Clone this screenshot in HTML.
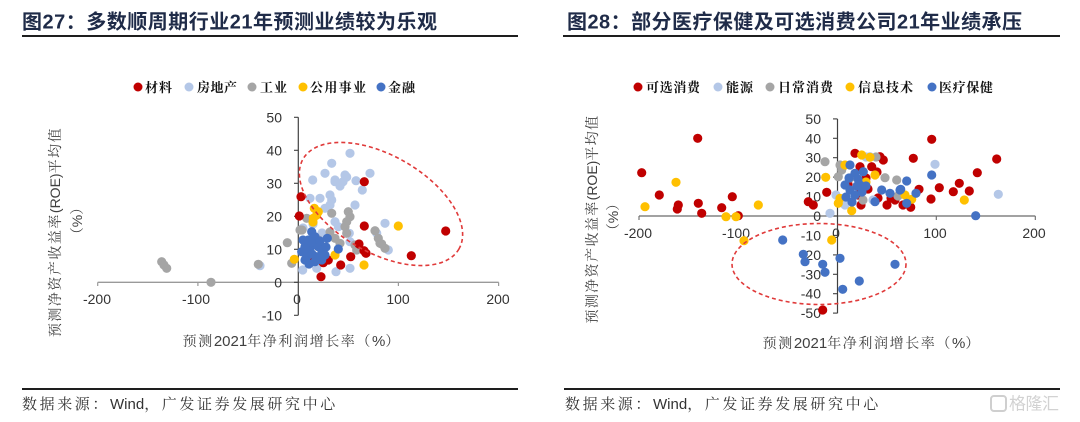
<!DOCTYPE html>
<html><head><meta charset="utf-8"><style>
html,body{margin:0;padding:0;background:#fff;}
svg{display:block;}
.t{font-family:"Liberation Sans","Noto Sans CJK SC",sans-serif;font-weight:bold;font-size:20px;fill:#1f2b48;}
.tk{font-family:"Liberation Sans","DejaVu Sans",sans-serif;font-size:14px;fill:#333;}
.ax{font-family:"Liberation Sans","Noto Serif CJK SC",serif;font-size:14px;fill:#404040;}
.lg{font-family:"Liberation Sans","Noto Serif CJK SC",serif;font-size:13px;font-weight:bold;fill:#111;}
.ft{font-family:"Liberation Sans","Noto Serif CJK SC",serif;font-size:15px;fill:#333;}
</style></head><body>
<svg width="1080" height="422" viewBox="0 0 1080 422" xmlns="http://www.w3.org/2000/svg">
<rect width="1080" height="422" fill="#fff"/>

<!-- Titles -->
<text class="t" x="22" y="28.5" textLength="415" lengthAdjust="spacing">图27：多数顺周期行业21年预测业绩较为乐观</text>
<text class="t" x="567" y="28.5" textLength="455" lengthAdjust="spacing">图28：部分医疗保健及可选消费公司21年业绩承压</text>
<rect x="22" y="35" width="496" height="2" fill="#1e1e1e"/>
<rect x="563" y="35" width="497" height="2" fill="#1e1e1e"/>

<!-- Legends -->
<g>
<circle cx="138" cy="87" r="4.5" fill="#c00000"/>
<circle cx="189" cy="87" r="4.5" fill="#b4c7e7"/>
<circle cx="252" cy="87" r="4.5" fill="#a5a5a5"/>
<circle cx="303" cy="87" r="4.5" fill="#ffc000"/>
<circle cx="381" cy="87" r="4.5" fill="#4472c4"/>
<text class="lg" x="145" y="87.5" dominant-baseline="central" textLength="27" lengthAdjust="spacing">材料</text>
<text class="lg" x="197" y="87.5" dominant-baseline="central" textLength="40" lengthAdjust="spacing">房地产</text>
<text class="lg" x="260" y="87.5" dominant-baseline="central" textLength="27" lengthAdjust="spacing">工业</text>
<text class="lg" x="310" y="87.5" dominant-baseline="central" textLength="56" lengthAdjust="spacing">公用事业</text>
<text class="lg" x="388" y="87.5" dominant-baseline="central" textLength="27" lengthAdjust="spacing">金融</text>

<circle cx="638" cy="87" r="4.5" fill="#c00000"/>
<circle cx="718" cy="87" r="4.5" fill="#b4c7e7"/>
<circle cx="770" cy="87" r="4.5" fill="#a5a5a5"/>
<circle cx="850" cy="87" r="4.5" fill="#ffc000"/>
<circle cx="932" cy="87" r="4.5" fill="#4472c4"/>
<text class="lg" x="646" y="87.5" dominant-baseline="central" textLength="54" lengthAdjust="spacing">可选消费</text>
<text class="lg" x="726" y="87.5" dominant-baseline="central" textLength="27" lengthAdjust="spacing">能源</text>
<text class="lg" x="778" y="87.5" dominant-baseline="central" textLength="55" lengthAdjust="spacing">日常消费</text>
<text class="lg" x="858" y="87.5" dominant-baseline="central" textLength="55" lengthAdjust="spacing">信息技术</text>
<text class="lg" x="939" y="87.5" dominant-baseline="central" textLength="54" lengthAdjust="spacing">医疗保健</text>
</g>

<!-- ============ LEFT CHART ============ -->
<line x1="97.7" y1="282.3" x2="498.7" y2="282.3" stroke="#9a9a9a" stroke-width="1.3"/>
<g stroke="#9a9a9a" stroke-width="1.2">
<line x1="97.7" y1="282.3" x2="97.7" y2="286"/>
<line x1="197.9" y1="282.3" x2="197.9" y2="286"/>
<line x1="398.4" y1="282.3" x2="398.4" y2="286"/>
<line x1="498.6" y1="282.3" x2="498.6" y2="286"/>
</g>
<line x1="298.3" y1="117.3" x2="298.3" y2="315.3" stroke="#404040" stroke-width="1.2"/>
<g stroke="#404040" stroke-width="1.1">
<line x1="294" y1="117.3" x2="298.3" y2="117.3"/>
<line x1="294" y1="150.3" x2="298.3" y2="150.3"/>
<line x1="294" y1="183.3" x2="298.3" y2="183.3"/>
<line x1="294" y1="216.3" x2="298.3" y2="216.3"/>
<line x1="294" y1="249.3" x2="298.3" y2="249.3"/>
<line x1="294" y1="282.3" x2="298.3" y2="282.3"/>
<line x1="294" y1="315.3" x2="298.3" y2="315.3"/>
</g>
<g class="tk" text-anchor="end" dominant-baseline="central">
<text x="282" y="117.3">50</text>
<text x="282" y="150.3">40</text>
<text x="282" y="183.3">30</text>
<text x="282" y="216.3">20</text>
<text x="282" y="249.3">10</text>
<text x="282" y="282.3">0</text>
<text x="282" y="315.3">-10</text>
</g>
<g class="tk" text-anchor="middle" dominant-baseline="central">
<text x="97" y="299">-200</text>
<text x="196" y="299">-100</text>
<text x="297" y="299">0</text>
<text x="398" y="299">100</text>
<text x="498" y="299">200</text>
</g>
<text class="ax" x="291" y="341" text-anchor="middle" dominant-baseline="central"><tspan letter-spacing="1.6">预测</tspan><tspan font-size="15">2021</tspan><tspan letter-spacing="1.6">年净利润增长率（</tspan><tspan font-size="15">%</tspan>）</text>
<text class="ax" transform="translate(55,232) rotate(-90)" text-anchor="middle" dominant-baseline="central" font-size="15"><tspan letter-spacing="1.5">预测净资产收益率</tspan><tspan>(ROE)</tspan><tspan letter-spacing="1.5">平均值</tspan></text>
<text class="ax" transform="translate(77,221) rotate(-90)" text-anchor="middle" dominant-baseline="central">（%）</text>

<g fill="#b4c7e7">
<circle cx="350" cy="153.3" r="4.6"/><circle cx="331.7" cy="163.3" r="4.6"/><circle cx="325" cy="173.3" r="4.6"/>
<circle cx="345" cy="175" r="4.6"/><circle cx="346.7" cy="177" r="4.6"/><circle cx="370" cy="173.3" r="4.6"/>
<circle cx="312.7" cy="180" r="4.6"/><circle cx="335" cy="180" r="4.6"/><circle cx="356" cy="180.7" r="4.6"/>
<circle cx="362.3" cy="190" r="4.6"/><circle cx="310" cy="198.3" r="4.6"/><circle cx="320" cy="198.3" r="4.6"/>
<circle cx="330" cy="195" r="4.6"/><circle cx="331.7" cy="200" r="4.6"/><circle cx="330" cy="205" r="4.6"/>
<circle cx="355" cy="205" r="4.6"/><circle cx="325" cy="208.3" r="4.6"/><circle cx="335" cy="221.7" r="4.6"/>
<circle cx="338.3" cy="226.7" r="4.6"/><circle cx="385" cy="223.3" r="4.6"/><circle cx="376.7" cy="233.3" r="4.6"/>
<circle cx="349.3" cy="233.3" r="4.6"/><circle cx="350" cy="241.7" r="4.6"/><circle cx="388.3" cy="250" r="4.6"/>
<circle cx="350" cy="268.3" r="4.6"/><circle cx="336" cy="271.7" r="4.6"/><circle cx="302.7" cy="270" r="4.6"/>
<circle cx="316.7" cy="268.3" r="4.6"/><circle cx="260" cy="265.7" r="4.6"/><circle cx="335" cy="181.7" r="4.6"/>
<circle cx="343" cy="181.7" r="4.6"/><circle cx="303" cy="228" r="4.6"/><circle cx="322" cy="233" r="4.6"/>
<circle cx="313" cy="224" r="4.6"/><circle cx="340" cy="186" r="4.6"/>
</g>
<g fill="#a5a5a5">
<circle cx="161.7" cy="261.7" r="4.6"/><circle cx="164" cy="265" r="4.6"/><circle cx="166.7" cy="268.3" r="4.6"/>
<circle cx="211" cy="282.3" r="4.6"/><circle cx="258.3" cy="264.3" r="4.6"/><circle cx="287.3" cy="242.7" r="4.6"/>
<circle cx="291.7" cy="263.3" r="4.6"/><circle cx="306.7" cy="218.3" r="4.6"/><circle cx="331.7" cy="213.3" r="4.6"/>
<circle cx="348.3" cy="211.7" r="4.6"/><circle cx="350" cy="216.7" r="4.6"/><circle cx="346.7" cy="221.7" r="4.6"/>
<circle cx="345" cy="226.7" r="4.6"/><circle cx="346.7" cy="233.3" r="4.6"/><circle cx="375" cy="230.7" r="4.6"/>
<circle cx="300" cy="230" r="4.6"/><circle cx="335" cy="238.3" r="4.6"/><circle cx="340" cy="243.3" r="4.6"/>
<circle cx="355" cy="245" r="4.6"/><circle cx="356.7" cy="250" r="4.6"/><circle cx="380" cy="243.3" r="4.6"/>
<circle cx="385" cy="248.3" r="4.6"/><circle cx="378.3" cy="238.3" r="4.6"/><circle cx="318.3" cy="240" r="4.6"/>
<circle cx="381.7" cy="244" r="4.6"/><circle cx="302" cy="230" r="4.6"/><circle cx="330" cy="232" r="4.6"/>
</g>
<g fill="#c00000">
<circle cx="364.3" cy="181.7" r="4.6"/><circle cx="301" cy="196.7" r="4.6"/><circle cx="299.3" cy="216" r="4.6"/>
<circle cx="364.3" cy="226" r="4.6"/><circle cx="445.7" cy="231" r="4.6"/><circle cx="359" cy="244" r="4.6"/>
<circle cx="364" cy="250.7" r="4.6"/><circle cx="366" cy="253.3" r="4.6"/><circle cx="411.3" cy="255.7" r="4.6"/>
<circle cx="350.7" cy="256.7" r="4.6"/><circle cx="340.7" cy="265" r="4.6"/><circle cx="321" cy="276.7" r="4.6"/>
<circle cx="323.3" cy="262.7" r="4.6"/><circle cx="313.3" cy="260" r="4.6"/><circle cx="328.3" cy="260" r="4.6"/>
</g>
<g fill="#ffc000">
<circle cx="314.3" cy="208.3" r="4.6"/><circle cx="316.7" cy="215" r="4.6"/><circle cx="318.3" cy="211.7" r="4.6"/>
<circle cx="313.3" cy="218.3" r="4.6"/><circle cx="398.3" cy="226" r="4.6"/><circle cx="364" cy="265" r="4.6"/>
<circle cx="335" cy="255" r="4.6"/><circle cx="294.3" cy="259.3" r="4.6"/><circle cx="313" cy="222" r="4.6"/>
</g>
<g fill="#4472c4">
<circle cx="327.3" cy="238.3" r="4.6"/><circle cx="338.3" cy="249" r="4.6"/><circle cx="311.7" cy="231.7" r="4.6"/>
<circle cx="315" cy="236.7" r="4.6"/><circle cx="308.3" cy="240" r="4.6"/><circle cx="305" cy="246.7" r="4.6"/>
<circle cx="313.3" cy="245" r="4.6"/><circle cx="318.3" cy="246.7" r="4.6"/><circle cx="321.7" cy="250" r="4.6"/>
<circle cx="310" cy="251.7" r="4.6"/><circle cx="301.7" cy="251.7" r="4.6"/><circle cx="306.7" cy="256.7" r="4.6"/>
<circle cx="316.7" cy="256.7" r="4.6"/><circle cx="325" cy="255" r="4.6"/><circle cx="315" cy="261.7" r="4.6"/>
<circle cx="305" cy="260" r="4.6"/><circle cx="321.7" cy="260" r="4.6"/><circle cx="311" cy="242" r="4.6"/>
<circle cx="303" cy="240" r="4.6"/><circle cx="320" cy="241" r="4.6"/><circle cx="309" cy="264" r="4.6"/>
<circle cx="326" cy="247" r="4.6"/><circle cx="312" cy="254" r="4.6"/>
</g>
<ellipse cx="381" cy="204" rx="90" ry="48.5" transform="rotate(30 381 204)" fill="none" stroke="#e03a3a" stroke-width="1.6" stroke-dasharray="4 3"/>

<!-- ============ RIGHT CHART ============ -->
<line x1="639" y1="216" x2="1035.3" y2="216" stroke="#6a6a6a" stroke-width="1.2"/>
<g stroke="#6a6a6a" stroke-width="1.1">
<line x1="639" y1="216" x2="639" y2="220"/>
<line x1="738" y1="216" x2="738" y2="220"/>
<line x1="936.3" y1="216" x2="936.3" y2="220"/>
<line x1="1035.3" y1="216" x2="1035.3" y2="220"/>
</g>
<line x1="837.5" y1="119" x2="837.5" y2="313.2" stroke="#404040" stroke-width="1.2"/>
<g stroke="#404040" stroke-width="1.1">
<line x1="833" y1="118.9" x2="837.5" y2="118.9"/>
<line x1="833" y1="138.3" x2="837.5" y2="138.3"/>
<line x1="833" y1="157.7" x2="837.5" y2="157.7"/>
<line x1="833" y1="177.1" x2="837.5" y2="177.1"/>
<line x1="833" y1="196.6" x2="837.5" y2="196.6"/>
<line x1="833" y1="216" x2="837.5" y2="216"/>
<line x1="833" y1="235.4" x2="837.5" y2="235.4"/>
<line x1="833" y1="254.9" x2="837.5" y2="254.9"/>
<line x1="833" y1="274.3" x2="837.5" y2="274.3"/>
<line x1="833" y1="293.7" x2="837.5" y2="293.7"/>
<line x1="833" y1="313.1" x2="837.5" y2="313.1"/>
</g>
<g class="tk" text-anchor="end" dominant-baseline="central">
<text x="821" y="118.9">50</text>
<text x="821" y="138.3">40</text>
<text x="821" y="157.7">30</text>
<text x="821" y="177.1">20</text>
<text x="821" y="196.6">10</text>
<text x="821" y="216">0</text>
<text x="821" y="235.4">-10</text>
<text x="821" y="254.9">-20</text>
<text x="821" y="274.3">-30</text>
<text x="821" y="293.7">-40</text>
<text x="821" y="313.1">-50</text>
</g>
<g class="tk" text-anchor="middle" dominant-baseline="central">
<text x="638" y="233">-200</text>
<text x="736" y="233">-100</text>
<text x="836" y="233">0</text>
<text x="935" y="233">100</text>
<text x="1034" y="233">200</text>
</g>
<text class="ax" x="871" y="343" text-anchor="middle" dominant-baseline="central"><tspan letter-spacing="1.6">预测</tspan><tspan font-size="15">2021</tspan><tspan letter-spacing="1.6">年净利润增长率（</tspan><tspan font-size="15">%</tspan>）</text>
<text class="ax" transform="translate(592,219) rotate(-90)" text-anchor="middle" dominant-baseline="central" font-size="15"><tspan letter-spacing="1.4">预测净资产收益率</tspan><tspan>(ROE)</tspan><tspan letter-spacing="1.4">平均值</tspan></text>
<text class="ax" transform="translate(613,217) rotate(-90)" text-anchor="middle" dominant-baseline="central">（%）</text>

<g fill="#c00000">
<circle cx="641.7" cy="172.7" r="4.6"/><circle cx="697.7" cy="138.3" r="4.6"/><circle cx="659.3" cy="195" r="4.6"/>
<circle cx="678.3" cy="205" r="4.6"/><circle cx="677.3" cy="209" r="4.6"/><circle cx="698.3" cy="203.3" r="4.6"/>
<circle cx="701.7" cy="213.3" r="4.6"/><circle cx="721.7" cy="207.7" r="4.6"/><circle cx="732.3" cy="196.7" r="4.6"/>
<circle cx="738.3" cy="215.7" r="4.6"/><circle cx="808.3" cy="201.7" r="4.6"/><circle cx="813.3" cy="205" r="4.6"/>
<circle cx="826.7" cy="192.3" r="4.6"/><circle cx="822.7" cy="310" r="4.6"/><circle cx="931.7" cy="139.3" r="4.6"/>
<circle cx="913.3" cy="158.3" r="4.6"/><circle cx="996.7" cy="159" r="4.6"/><circle cx="977.3" cy="172.7" r="4.6"/>
<circle cx="959.3" cy="183.3" r="4.6"/><circle cx="939.3" cy="187.7" r="4.6"/><circle cx="953.3" cy="191.7" r="4.6"/>
<circle cx="969.3" cy="191" r="4.6"/><circle cx="931" cy="199" r="4.6"/><circle cx="919" cy="189.3" r="4.6"/>
<circle cx="910.7" cy="207.3" r="4.6"/><circle cx="855" cy="153.3" r="4.6"/><circle cx="880" cy="156.7" r="4.6"/>
<circle cx="883.3" cy="160" r="4.6"/><circle cx="860" cy="166.7" r="4.6"/><circle cx="871.7" cy="166.7" r="4.6"/>
<circle cx="848" cy="184" r="4.6"/><circle cx="868" cy="189" r="4.6"/><circle cx="878" cy="198" r="4.6"/>
<circle cx="891" cy="198" r="4.6"/><circle cx="861" cy="205" r="4.6"/><circle cx="887" cy="205" r="4.6"/>
<circle cx="866" cy="178" r="4.6"/><circle cx="877" cy="172" r="4.6"/><circle cx="895" cy="200" r="4.6"/>
<circle cx="858" cy="195" r="4.6"/><circle cx="903" cy="205" r="4.6"/>
</g>
<g fill="#b4c7e7">
<circle cx="830" cy="213.3" r="4.6"/><circle cx="935" cy="164.3" r="4.6"/><circle cx="998.3" cy="194.3" r="4.6"/>
<circle cx="870" cy="156.7" r="4.6"/><circle cx="866" cy="157" r="4.6"/><circle cx="836" cy="195" r="4.6"/>
<circle cx="845" cy="205" r="4.6"/><circle cx="873" cy="200" r="4.6"/>
</g>
<g fill="#a5a5a5">
<circle cx="825" cy="161.7" r="4.6"/><circle cx="885" cy="177.7" r="4.6"/><circle cx="896.7" cy="180" r="4.6"/>
<circle cx="840" cy="165" r="4.6"/><circle cx="841.7" cy="170" r="4.6"/><circle cx="838.3" cy="176.7" r="4.6"/>
<circle cx="850" cy="178" r="4.6"/><circle cx="863" cy="200" r="4.6"/><circle cx="898" cy="196" r="4.6"/>
<circle cx="876" cy="157" r="4.6"/>
</g>
<g fill="#ffc000">
<circle cx="645" cy="206.7" r="4.6"/><circle cx="676" cy="182.3" r="4.6"/><circle cx="726" cy="216.7" r="4.6"/>
<circle cx="736" cy="216.7" r="4.6"/><circle cx="758.3" cy="205" r="4.6"/><circle cx="744" cy="240.7" r="4.6"/>
<circle cx="825.7" cy="177.3" r="4.6"/><circle cx="831.7" cy="240" r="4.6"/><circle cx="964.3" cy="200" r="4.6"/>
<circle cx="911.7" cy="199.3" r="4.6"/><circle cx="861.7" cy="155" r="4.6"/><circle cx="870" cy="157.3" r="4.6"/>
<circle cx="845" cy="165" r="4.6"/><circle cx="875" cy="175" r="4.6"/><circle cx="840" cy="198.3" r="4.6"/>
<circle cx="838.3" cy="203.3" r="4.6"/><circle cx="851.7" cy="210.7" r="4.6"/><circle cx="905" cy="195" r="4.6"/>
<circle cx="866" cy="182" r="4.6"/>
</g>
<g fill="#4472c4">
<circle cx="782.7" cy="240" r="4.6"/><circle cx="803.3" cy="254.3" r="4.6"/><circle cx="805" cy="261.7" r="4.6"/>
<circle cx="822.7" cy="264.3" r="4.6"/><circle cx="825" cy="272.3" r="4.6"/><circle cx="840" cy="258.3" r="4.6"/>
<circle cx="859.3" cy="281" r="4.6"/><circle cx="842.7" cy="289.3" r="4.6"/><circle cx="895" cy="264.3" r="4.6"/>
<circle cx="931.7" cy="175" r="4.6"/><circle cx="906.7" cy="181" r="4.6"/><circle cx="900.7" cy="189.3" r="4.6"/>
<circle cx="916" cy="193.3" r="4.6"/><circle cx="906.7" cy="203.3" r="4.6"/><circle cx="975.7" cy="215.7" r="4.6"/>
<circle cx="850" cy="165" r="4.6"/><circle cx="855" cy="173.3" r="4.6"/><circle cx="863.3" cy="171.7" r="4.6"/>
<circle cx="881.7" cy="190" r="4.6"/><circle cx="890" cy="193.3" r="4.6"/><circle cx="900" cy="190" r="4.6"/>
<circle cx="875" cy="201.7" r="4.6"/><circle cx="845" cy="185" r="4.6"/><circle cx="850" cy="190" r="4.6"/>
<circle cx="855" cy="195" r="4.6"/><circle cx="860" cy="185" r="4.6"/><circle cx="846" cy="197" r="4.6"/>
<circle cx="852" cy="202" r="4.6"/><circle cx="862" cy="192" r="4.6"/><circle cx="858" cy="179" r="4.6"/>
<circle cx="866" cy="186" r="4.6"/><circle cx="849" cy="178" r="4.6"/><circle cx="857" cy="186" r="4.6"/>
</g>
<ellipse cx="819" cy="264" rx="87" ry="40.5" fill="none" stroke="#e03a3a" stroke-width="1.6" stroke-dasharray="4 3"/>

<!-- Footers -->
<rect x="22" y="388" width="496" height="2" fill="#1e1e1e"/>
<rect x="564" y="388" width="496" height="2" fill="#1e1e1e"/>
<text class="ft" x="22" y="404" dominant-baseline="central"><tspan letter-spacing="2.6">数据来源：</tspan><tspan>Wind</tspan><tspan letter-spacing="2.6">，广发证券发展研究中心</tspan></text>
<text class="ft" x="565" y="404" dominant-baseline="central"><tspan letter-spacing="2.6">数据来源：</tspan><tspan>Wind</tspan><tspan letter-spacing="2.6">，广发证券发展研究中心</tspan></text>

<!-- watermark -->
<rect x="991" y="396" width="15" height="15" rx="3" fill="none" stroke="#cfcfcf" stroke-width="2"/>
<text x="1009" y="404" dominant-baseline="central" font-family="'Liberation Sans','Noto Sans CJK SC',sans-serif" font-size="17" fill="#d2d2d2" textLength="50" lengthAdjust="spacing">格隆汇</text>
</svg>
</body></html>
